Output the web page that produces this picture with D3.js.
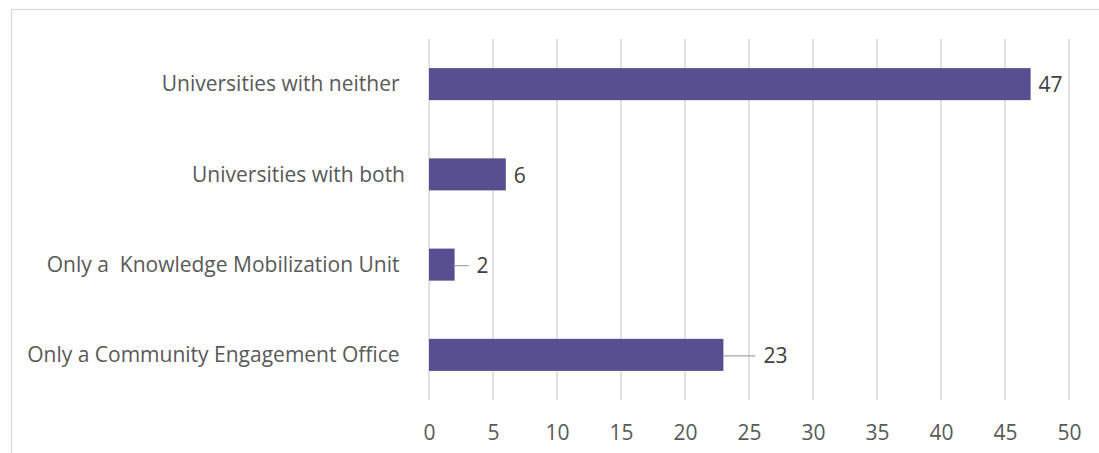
<!DOCTYPE html>
<html>
<head>
<meta charset="utf-8">
<script src="https://cdn.jsdelivr.net/npm/d3@7"></script>
<style>
  html, body { margin: 0; padding: 0; background: #fff; }
  svg { display: block; font-family: "Open Sans", "Liberation Sans", sans-serif; }
  .cat, .val { white-space: pre; }
</style>
</head>
<body>
<div id="chart"></div>
<script>
// --- data (top to bottom as drawn) ---
const categories = [
  "Universities with neither ",
  "Universities with both",
  "Only a  Knowledge Mobilization Unit ",
  "Only a Community Engagement Office "
];
const counts = [47, 6, 2, 23];
const xTicks = [0, 5, 10, 15, 20, 25, 30, 35, 40, 45, 50];

// leader line lengths for the labels Excel pushed out
const leaderPx = [0, 0, 14, 32];

const W = 1099, H = 453;
const margin = { top: 39, right: 30, bottom: 53, left: 429 };
const innerW = 1069 - margin.left;
const innerH = 400 - margin.top;

const svg = d3.select("#chart").append("svg")
  .attr("width", W)
  .attr("height", H);

// chart frame (runs off the right/bottom of the crop)
svg.append("rect")
  .attr("x", 11.5).attr("y", 9.5)
  .attr("width", 1200).attr("height", 600)
  .attr("fill", "none")
  .attr("stroke", "#d9d9d9")
  .attr("stroke-width", 1.2);

const g = svg.append("g").attr("transform", `translate(${margin.left},${margin.top})`);

const x = d3.scaleLinear().domain([0, 50]).range([0, innerW]);
const y = d3.scaleBand().domain(categories).range([0, innerH]).paddingInner(0.645).paddingOuter(0.3225);

// gridlines
g.append("g")
  .attr("class", "grid")
  .selectAll("line")
  .data(xTicks)
  .join("line")
  .attr("x1", d => x(d)).attr("x2", d => x(d))
  .attr("y1", 0).attr("y2", innerH)
  .attr("stroke", "#d9d9d9")
  .attr("stroke-width", 1.5);

// x axis labels
const xAxis = g.append("g")
  .attr("transform", `translate(0,${innerH})`)
  .call(d3.axisBottom(x).tickValues(xTicks).tickSize(0).tickPadding(25));
xAxis.select(".domain").remove();
xAxis.selectAll("text")
  .attr("font-size", 21)
  .attr("font-family", "Open Sans, Liberation Sans, sans-serif")
  .attr("fill", "#595959");

// category labels
g.append("g")
  .selectAll("text")
  .data(categories)
  .join("text")
  .attr("class", "cat")
  .attr("x", -24)
  .attr("y", d => y(d) + y.bandwidth() / 2)
  .attr("dy", "0.35em")
  .attr("text-anchor", "end")
  .attr("font-size", 21)
  .attr("fill", "#595959")
  .text(d => d);

// bars
g.append("g")
  .selectAll("rect")
  .data(categories)
  .join("rect")
  .attr("x", x(0))
  .attr("y", d => y(d))
  .attr("width", (d, i) => x(counts[i]) - x(0))
  .attr("height", y.bandwidth())
  .attr("fill", "#574f8f");

// leader lines
g.append("g")
  .selectAll("line")
  .data(categories.filter((d, i) => leaderPx[i] > 0))
  .join("line")
  .attr("x1", d => x(counts[categories.indexOf(d)]))
  .attr("x2", d => x(counts[categories.indexOf(d)]) + leaderPx[categories.indexOf(d)])
  .attr("y1", d => y(d) + y.bandwidth() / 2 + 1)
  .attr("y2", d => y(d) + y.bandwidth() / 2 + 1)
  .attr("stroke", "#a6a6a6")
  .attr("stroke-width", 1.3);

// value labels
g.append("g")
  .selectAll("text")
  .data(categories)
  .join("text")
  .attr("class", "val")
  .attr("x", (d, i) => x(counts[i]) + leaderPx[i] + 8)
  .attr("y", d => y(d) + y.bandwidth() / 2 + 1)
  .attr("dy", "0.35em")
  .attr("font-size", 21)
  .attr("fill", "#404040")
  .text((d, i) => counts[i]);
</script>
</body>
</html>
